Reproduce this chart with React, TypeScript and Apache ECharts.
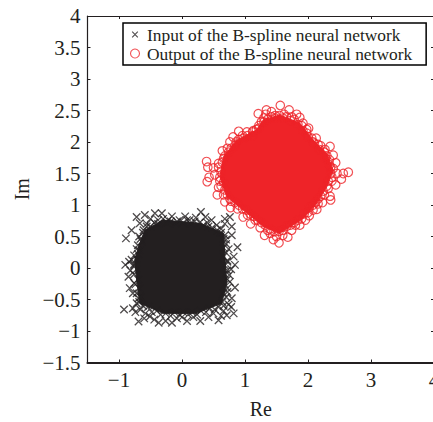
import React, { useEffect, useRef } from "react";
import * as echarts from "echarts";

const inputName = "Input of the B-spline neural network";
const outputName = "Output of the B-spline neural network";
const xTicks = [-1, 0, 1, 2, 3, 4];

// Scattered points at the rim of each cloud
const inputPoints = [
  [0.30,0.89],[-0.72,0.81],[-0.59,0.84],[-0.43,0.87],[-0.32,0.87],[-0.16,0.82],[0.05,0.82],[0.37,0.81],[0.47,0.76],[0.76,0.81],
  [0.68,0.70],[0.79,0.66],[0.79,0.52],[0.88,0.33],[0.82,0.18],[0.84,0.05],[0.75,-0.11],[0.84,-0.31],[0.79,-0.48],[0.82,-0.72],
  [0.71,-0.75],[0.58,-0.83],[0.29,-0.84],[0,-0.78],[-0.16,-0.87],[-0.37,-0.87],[-0.51,-0.77],[-0.69,-0.85],[-0.78,-0.64],[-0.92,-0.66],
  [-0.69,-0.48],[-0.83,-0.32],[-0.85,-0.14],[-0.90,0.05],[-0.80,0.13],[-0.72,0.30],[-0.89,0.47],[-0.80,0.60],[-0.61,0.60],[-0.67,0.71],
  [-0.50,0.78],[-0.38,0.76],[-0.22,0.76],[-0.08,0.74],[0.12,0.76],[0.22,0.80],[0.40,0.72],[0.55,0.68],[0.62,0.62],[0.70,0.45],
  [0.74,0.30],[0.72,0.10],[0.78,-0.02],[0.76,-0.22],[0.72,-0.38],[0.74,-0.58],[0.66,-0.68],[0.50,-0.72],[0.42,-0.78],[0.18,-0.78],
  [0.08,-0.84],[-0.08,-0.80],[-0.26,-0.84],[-0.44,-0.82],[-0.58,-0.72],[-0.66,-0.66],[-0.72,-0.56],[-0.78,-0.40],[-0.76,-0.24],[-0.82,-0.04],
  [-0.84,0.10],[-0.76,0.04],[-0.70,0.22],[-0.66,0.46],[-0.56,0.70],[-0.74,-0.70],[-0.60,-0.80],[0.62,-0.76],[0.78,-0.62],[0.68,0.78],
  [-0.56,0.66],[-0.50,0.66],[-0.44,0.72],[-0.38,0.70],[-0.30,0.78],[-0.24,0.72],[-0.18,0.74],[-0.10,0.70],[-0.04,0.76],[0.02,0.72],
  [0.08,0.76],[0.14,0.70],[0.20,0.74],[0.28,0.72],[0.34,0.68],[0.42,0.66],[0.48,0.64],[0.56,0.60],[0.62,0.56],[0.68,0.52],
  [0.66,0.46],[0.70,0.38],[0.66,0.32],[0.70,0.24],[0.66,0.18],[0.72,0.12],[0.68,0.04],[0.72,-0.04],[0.68,-0.10],[0.72,-0.18],
  [0.68,-0.26],[0.72,-0.32],[0.66,-0.40],[0.70,-0.46],[0.64,-0.54],[0.66,-0.60],[0.58,-0.62],[0.52,-0.66],[0.44,-0.64],[0.38,-0.70],
  [0.30,-0.68],[0.24,-0.74],[0.16,-0.70],[0.10,-0.74],[0.02,-0.70],[-0.04,-0.74],[-0.12,-0.70],[-0.18,-0.76],[-0.26,-0.72],[-0.34,-0.74],
  [-0.40,-0.68],[-0.48,-0.70],[-0.54,-0.62],[-0.62,-0.60],[-0.68,-0.54],[-0.66,-0.46],[-0.72,-0.40],[-0.68,-0.32],[-0.74,-0.26],[-0.70,-0.18],
  [-0.76,-0.10],[-0.72,-0.02],[-0.76,0.06],[-0.72,0.14],[-0.76,0.20],[-0.68,0.28],[-0.70,0.36],[-0.64,0.42],[-0.68,0.50],[-0.62,0.56],
];

const outputPoints = [
  [1.56,2.58],[1.21,2.45],[1.34,2.51],[1.33,2.44],[1.42,2.48],[1.70,2.51],[1.82,2.44],[1.87,2.39],[2.01,2.22],[2.13,2.06],
  [2.35,1.93],[2.27,1.88],[2.40,1.79],[2.44,1.67],[2.64,1.52],[2.56,1.50],[2.53,1.41],[2.44,1.32],[2.35,1.14],[2.36,1.08],
  [2.23,1.04],[2.14,0.93],[2.02,0.83],[1.87,0.68],[1.74,0.60],[1.68,0.49],[1.54,0.40],[1.45,0.45],[1.31,0.52],[1.40,0.55],
  [1.09,0.70],[0.97,0.81],[0.77,0.96],[0.68,1.05],[0.56,1.16],[0.58,1.28],[0.40,1.37],[0.43,1.44],[0.41,1.60],[0.39,1.69],
  [0.50,1.59],[0.64,1.86],[0.76,2.00],[0.81,2.08],[0.90,2.17],[1.03,2.16],[1.13,2.18],[1.26,2.32],[1.48,2.42],[1.62,2.44],
  [1.74,2.40],[1.92,2.30],[1.98,2.14],[2.08,2.00],[2.20,1.94],[2.30,1.78],[2.36,1.60],[2.46,1.50],[2.38,1.38],[2.32,1.26],
  [2.26,1.16],[2.16,1.02],[2.08,0.92],[1.96,0.76],[1.80,0.68],[1.60,0.52],[1.50,0.50],[1.36,0.60],[1.24,0.64],[1.16,0.76],
  [1.04,0.84],[0.88,0.94],[0.78,1.06],[0.66,1.16],[0.60,1.38],[0.52,1.48],[0.58,1.66],[0.66,1.74],[0.72,1.90],[0.86,2.00],
  [0.98,2.06],[1.12,2.10],[1.22,2.22],[1.30,2.38],
  [1.55,2.42],[1.60,2.38],[1.66,2.40],[1.72,2.34],[1.78,2.36],[1.84,2.28],[1.90,2.26],[1.92,2.18],[1.98,2.20],[2.00,2.08],
  [2.06,2.06],[2.10,1.98],[2.16,1.96],[2.18,1.88],[2.26,1.84],[2.28,1.74],[2.34,1.72],[2.34,1.64],[2.40,1.58],[2.36,1.50],
  [2.38,1.44],[2.32,1.38],[2.30,1.30],[2.24,1.22],[2.20,1.14],[2.16,1.10],[2.12,1.04],[2.08,1.00],[2.02,0.96],[2.00,0.88],
  [1.94,0.86],[1.90,0.78],[1.84,0.76],[1.78,0.72],[1.72,0.68],[1.66,0.66],[1.60,0.60],[1.54,0.58],[1.46,0.58],[1.40,0.62],
  [1.32,0.68],[1.26,0.72],[1.20,0.76],[1.14,0.82],[1.08,0.86],[1.02,0.92],[0.96,0.94],[0.90,1.00],[0.84,1.04],[0.76,1.10],
  [0.72,1.16],[0.68,1.24],[0.62,1.30],[0.66,1.36],[0.60,1.44],[0.62,1.52],[0.58,1.60],[0.64,1.68],[0.68,1.78],[0.74,1.84],
  [0.78,1.90],[0.84,1.94],[0.90,2.04],[0.96,2.10],[1.04,2.10],[1.12,2.16],[1.18,2.20],[1.22,2.26],[1.30,2.32],[1.36,2.36],
  [1.42,2.40],[1.48,2.38],
];

// Outlines of the solid centres, where the marks merge into one area
const inputCore = [
  [-0.59,0.60],[-0.30,0.76],[0.29,0.71],[0.66,0.55],[0.68,0.18],[0.71,-0.24],[0.63,-0.56],
  [0.23,-0.72],[-0.30,-0.72],[-0.67,-0.56],[-0.72,-0.19],[-0.75,0.13],[-0.67,0.39],
];
const outputCore = [
  [1.55,2.43],[1.87,2.30],[2.08,2.03],[2.30,1.82],[2.40,1.55],[2.30,1.29],[2.14,1.03],[1.93,0.79],
  [1.55,0.55],[1.29,0.66],[0.97,0.92],[0.71,1.13],[0.60,1.45],[0.66,1.77],[0.87,2.03],[1.18,2.19],[1.29,2.35],
];

const ink = "#231f20";
const red = "#ee2328";
const crossPath = "path://M0 0L10 10M10 0L0 10";
const legendCross = "path://M-3 -3L-3 -3M0 0L10 10M10 0L0 10M13 13L13 13";
const font = "'Liberation Serif', serif";
const minus = (v: number | string) => String(v).replace("-", "\u2212");

const coreSeries = (points: number[][], color: string) => ({
  type: "custom",
  silent: true,
  coordinateSystem: "cartesian2d",
  data: points,
  encode: { x: 0, y: 1 },
  renderItem: (params: any, api: any) =>
    params.dataIndex === 0
      ? {
          type: "polygon",
          shape: { points: points.map((p) => api.coord(p)) },
          style: { fill: color, stroke: color },
        }
      : null,
});

const axisCommon = {
  axisLine: { show: true, onZero: false, lineStyle: { color: ink, width: 1.2 } },
  axisTick: { show: true, inside: true, length: 3, lineStyle: { color: ink, width: 1 } },
  splitLine: { show: false },
};

export default function App() {
  const ref = useRef<HTMLDivElement>(null);
  useEffect(() => {
    const chart = echarts.init(ref.current!, undefined, { renderer: "svg" });
    chart.setOption({
      animation: false,
      backgroundColor: "#fff",
      grid: { left: 87.5, top: 16, width: 346.5, height: 346.5, containLabel: false, outerBoundsMode: "none" },
      legend: {
        left: 123,
        top: 23,
        orient: "vertical",
        padding: [3, 14, 3, 5],
        itemGap: 2,
        itemWidth: 14,
        itemHeight: 9,
        backgroundColor: "#fff",
        borderColor: "#000",
        borderWidth: 1.5,
        borderRadius: 0,
        textStyle: { fontFamily: font, fontSize: 17.4, color: ink },
        data: [
          { name: inputName, icon: legendCross, itemStyle: { color: "none", borderColor: ink, borderWidth: 1.1 } },
          { name: outputName, icon: "circle", itemStyle: { color: "none", borderColor: red, borderWidth: 1.1 } },
        ],
      },
      xAxis: [
        {
          ...axisCommon,
          type: "value",
          min: -1.5,
          max: 4,
          name: "Re",
          nameLocation: "middle",
          nameGap: 36,
          nameTextStyle: { fontFamily: font, fontSize: 20, color: ink },
          axisLine: { show: true, onZero: false, lineStyle: { color: ink, width: 2.2 } },
          axisTick: { ...axisCommon.axisTick, customValues: xTicks },
          axisLabel: { customValues: xTicks, formatter: minus, fontFamily: font, fontSize: 21, color: ink, margin: 7, showMinLabel: true, showMaxLabel: true },
        },
        {
          ...axisCommon,
          type: "value",
          position: "top",
          min: -1.5,
          max: 4,
          axisTick: { ...axisCommon.axisTick, customValues: xTicks },
          axisLabel: { show: false },
        },
      ],
      yAxis: [
        {
          ...axisCommon,
          type: "value",
          min: -1.5,
          max: 4,
          interval: 0.5,
          name: "Im",
          nameLocation: "middle",
          nameGap: 54,
          nameTextStyle: { fontFamily: font, fontSize: 20, color: ink },
          axisLabel: { formatter: minus, fontFamily: font, fontSize: 21, color: ink, margin: 7, padding: [0, 0, 3, 0], showMinLabel: true, showMaxLabel: true },
        },
        {
          ...axisCommon,
          type: "value",
          position: "right",
          min: -1.5,
          max: 4,
          interval: 0.5,
          axisLabel: { show: false },
        },
      ],
      series: [
        coreSeries(inputCore, ink),
        {
          name: inputName,
          type: "scatter",
          data: inputPoints,
          symbol: crossPath,
          symbolSize: 7.5,
          itemStyle: { color: "none", borderColor: ink, borderWidth: 1.3 },
        },
        coreSeries(outputCore, red),
        {
          name: outputName,
          type: "scatter",
          data: outputPoints,
          symbol: "circle",
          symbolSize: 8.5,
          itemStyle: { color: "none", borderColor: red, borderWidth: 1.2 },
        },
      ],
    });
    return () => chart.dispose();
  }, []);
  return <div ref={ref} style={{ position: "fixed", left: 0, top: 0, width: 433, height: 422 }} />;
}
